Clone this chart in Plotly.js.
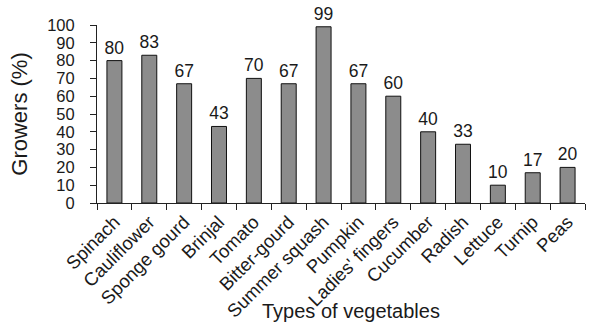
<!DOCTYPE html>
<html><head><meta charset="utf-8">
<script src="https://cdn.plot.ly/plotly-3.0.1.min.js"></script>
<style>body{margin:0;background:#fff}#c{width:589px;height:322px}</style>
</head><body><div id="c"></div>
<script>
const categories = ["Spinach","Cauliflower","Sponge gourd","Brinjal","Tomato","Bitter-gourd","Summer squash","Pumpkin","Ladies' fingers","Cucumber","Radish","Lettuce","Turnip","Peas"];
const growers = [80,83,67,43,70,67,99,67,60,40,33,10,17,20];
const yTicks = [0,10,20,30,40,50,60,70,80,90,100];

const fam = "Liberation Sans, Arial, sans-serif";
Plotly.newPlot("c", [{
  type: "bar", x: categories, y: growers,
  text: growers.map(String), textposition: "outside", constraintext: "none",
  textfont: {family: fam, size: 17.5, color: "#1a1a1a"},
  cliponaxis: false,
  marker: {color: "#8c8c8c", line: {color: "#111", width: 1}},
  width: 0.43
}], {
  width: 589, height: 322,
  margin: {l: 97, r: 4, t: 25, b: 119},
  paper_bgcolor: "#fff", plot_bgcolor: "#fff",
  font: {family: fam, size: 17, color: "#1a1a1a"},
  showlegend: false,
  xaxis: {
    tickangle: -45, tickson: "boundaries", ticks: "outside", ticklen: 6,
    tickcolor: "#222", showline: true, linecolor: "#222", linewidth: 1,
    tickfont: {size: 18.5}, showgrid: false
  },
  yaxis: {
    range: [0, 100], tickvals: yTicks, ticks: "outside", ticklen: 6,
    tickcolor: "#222", showline: true, linecolor: "#222", linewidth: 1,
    showgrid: false, zeroline: false, tickfont: {size: 16.5}, ticklabelstandoff: 12,
    title: {text: "Growers (%)", font: {size: 22}, standoff: 13}
  },
  annotations: [{
    text: "Types of vegetables", xref: "paper", yref: "paper", x: 0.5, y: 0,
    xanchor: "center", yanchor: "top", yshift: -95, xshift: 10, showarrow: false,
    font: {family: fam, size: 20, color: "#1a1a1a"}
  }]
}, {staticPlot: true});
</script></body></html>
